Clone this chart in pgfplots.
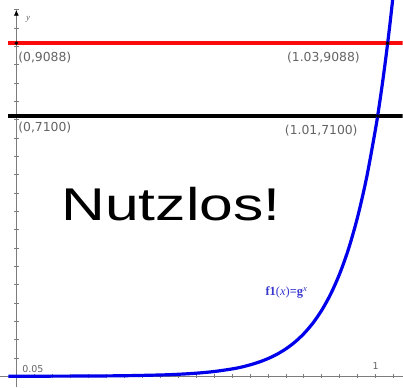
\documentclass[border=0pt]{standalone}
\usepackage{pgfplots}
\pgfplotsset{compat=1.18}
\usepackage{graphicx}
\usepackage{fontspec}
\setmainfont{Liberation Sans}
\newfontfamily\labelfont{DejaVu Sans}
\newfontfamily\seriffont{Liberation Serif}
\usetikzlibrary{arrows.meta}

\definecolor{axisgray}{RGB}{125,125,125}
\definecolor{lblgray}{RGB}{100,100,100}
\definecolor{curveblue}{RGB}{0,0,235}
\definecolor{fnblue}{RGB}{55,55,205}
\definecolor{linered}{RGB}{250,10,10}

% f1(x) = g^x, sampled along the graph
\pgfplotstableread{
x      y
-0.022 0.8
0.00   1
0.10   2.4
0.20   5.8
0.30   14.1
0.40   34.1
0.45   52.9
0.50   82.3
0.55   127.9
0.60   198.7
0.625  246
0.65   309
0.675  385
0.70   480
0.725  598
0.75   746
0.775  930
0.80   1160
0.825  1446
0.85   1802
0.875  2246
0.90   2800
0.925  3490
0.95   4355
0.975  5429
1.00   6768
1.01   7393
1.02   8074
1.03   8818
1.04   9630
1.05   10518
1.06   11480
}\curvedata

\begin{document}
\begin{tikzpicture}
\begin{axis}[
  width=403pt, height=388pt, scale only axis,
  xmin=-0.0444, xmax=1.075, ymin=-300, ymax=10266,
  axis lines=middle, separate axis lines,
  x axis line style={axisgray, line width=0.8pt, -},
  y axis line style={draw=none},
  xtick={0.05,0.10,...,1.06}, ytick={500,1000,...,10000},
  xticklabels={}, yticklabels={},
  scaled x ticks=false, scaled y ticks=false,
  tick style={axisgray, line width=0.6pt},
  major tick length=4.5pt, tick align=center,
  clip=true,
]
% vertical axis with arrow
\draw[axisgray, line width=0.8pt, -{Latex[color=black,length=6pt,width=5pt]}]
  (axis cs:0,-300) -- (axis cs:0,10000);
\node[font=\seriffont\itshape\fontsize{9}{9}\selectfont, text=lblgray, anchor=center]
  at (axis cs:0.033,9740) {y};

% horizontal lines
\addplot[linered, line width=3.4pt] coordinates {(-0.022,9088) (1.075,9088)};
\addplot[black, line width=3.4pt] coordinates {(-0.022,7100) (1.075,7100)};

% the graph
\addplot[curveblue, line width=3.2pt, smooth] table[x=x, y=y] {\curvedata};

% intersection points
\addplot[only marks, mark=*, mark size=1.6pt, black]
  coordinates {(0,9088) (1.033,9088) (0,7100) (1.006,7100)};

% point labels
\begin{scope}[every node/.style={font=\labelfont\fontsize{12.4}{12.4}\selectfont, text=lblgray, inner sep=0pt}]
\node[anchor=west] at (axis cs:0.005,8700) {(0,9088)};
\node[anchor=west] at (axis cs:0.753,8700) {(1.03,9088)};
\node[anchor=west] at (axis cs:0.005,6780) {(0,7100)};
\node[anchor=west] at (axis cs:0.747,6700) {(1.01,7100)};
\end{scope}

% axis scale labels
\node[font=\labelfont\fontsize{9.5}{9.5}\selectfont, text=lblgray, anchor=west, inner sep=0pt]
  at (axis cs:0.016,190) {0.05};
\node[font=\labelfont\fontsize{9.5}{9.5}\selectfont, text=lblgray, anchor=center, inner sep=0pt]
  at (axis cs:1.0,270) {1};

% function label
\node[font=\seriffont\fontsize{12.5}{12.5}\selectfont, text=fnblue, anchor=base west, inner sep=0pt]
  at (axis cs:0.693,2206) {\textbf{f1}(\textit{x})\textbf{=g}\textsuperscript{\textit{x}}};

% remark
\node[font=\fontsize{46}{46}\selectfont, anchor=base west, inner sep=0pt]
  at (axis cs:0.125,4248) {\scalebox{1.32}[1]{Nutzlos!}};
\end{axis}
\end{tikzpicture}
\end{document}
